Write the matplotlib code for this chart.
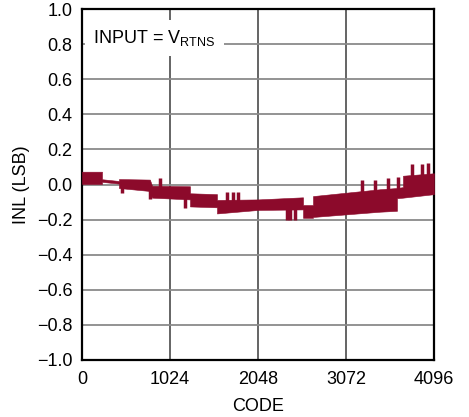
import numpy as np
import matplotlib
matplotlib.use('Agg')
import matplotlib.pyplot as plt

# ============================================================================
# DATA
# ============================================================================
# envelope of the dense INL band: code, upper edge, lower edge (LSB)
band_code = [0, 233, 233, 430, 430, 790, 815, 1257, 1257, 1571, 1571, 2048,
             2572, 2572, 2688, 2688, 3468, 3665, 3665, 3735, 3735, 4096]
band_upper = [0.073, 0.073, 0.030, 0.020, 0.031, 0.028, -0.007, -0.010,
              -0.050, -0.055, -0.088, -0.085, -0.073, -0.117, -0.117,
              -0.066, -0.027, -0.020, -0.020, -0.015, 0.050, 0.064]
band_lower = [0.003, 0.003, 0.015, 0.005, -0.020, -0.037, -0.075, -0.085,
              -0.125, -0.130, -0.165, -0.145, -0.142, -0.190, -0.190,
              -0.185, -0.155, -0.150, -0.078, -0.075, -0.075, -0.055]

# isolated spikes sticking out of the band: code, tip value (LSB)
spike_code = [465, 790, 905, 1200, 1690, 1760, 1810, 2385, 2420, 2478,
              3254, 3410, 3557, 3677, 3836, 3953, 4026]
spike_tip = [-0.047, -0.080, 0.035, -0.134, -0.045, -0.045, -0.045,
             -0.200, -0.200, -0.200, 0.026, 0.026, 0.039, 0.044,
             0.115, 0.115, 0.120]

x_ticks = [0, 1024, 2048, 3072, 4096]
y_ticks = np.round(np.arange(-1.0, 1.01, 0.2), 1)

LINE_COLOR = '#8c0a2b'

# ============================================================================
# PLOT
# ============================================================================
plt.rcParams['font.family'] = ['Liberation Sans', 'DejaVu Sans']
plt.rcParams['mathtext.fontset'] = 'custom'
plt.rcParams['mathtext.rm'] = 'Liberation Sans'

fig = plt.figure(figsize=(4.69, 4.17), dpi=100)
ax = fig.add_axes([0.1748, 0.1367, 0.7506, 0.8417])

ax.fill_between(band_code, band_lower, band_upper, color=LINE_COLOR,
                linewidth=0.4, edgecolor=LINE_COLOR, zorder=3)
band_mid = (np.array(band_upper) + np.array(band_lower)) / 2
base = np.interp(spike_code, band_code, band_mid)
ax.vlines(spike_code, base, spike_tip, color=LINE_COLOR, linewidth=2.5,
          zorder=3)

ax.set_xlim(0, 4096)
ax.set_ylim(-1.0, 1.0)
ax.set_xticks(x_ticks)
ax.set_yticks(y_ticks)
ax.set_yticklabels([f'{v:.1f}'.replace('-', '\u2212') if v != 0 else '0.0'
                    for v in y_ticks])
ax.tick_params(length=0, labelsize=13)
ax.tick_params(axis='x', pad=8)
ax.tick_params(axis='y', pad=7)

ax.set_axisbelow(True)
ax.xaxis.grid(True, color='#3a3a3a', linewidth=1.1)
ax.yaxis.grid(True, color='#8a8a8a', linewidth=1.3)
for s in ax.spines.values():
    s.set_linewidth(1.6)
    s.set_color('black')

ax.set_xlabel('CODE', fontsize=13, labelpad=7)
ax.set_ylabel('INL (LSB)', fontsize=13, labelpad=5)

ax.text(0.032, 0.918, r'INPUT = V$_\mathrm{RTNS}$', transform=ax.transAxes,
        fontsize=13, va='center', ha='left', zorder=5,
        bbox=dict(facecolor='white', edgecolor='none',
                  boxstyle='square,pad=0.45'))

fig.savefig('out.png', dpi=100)
